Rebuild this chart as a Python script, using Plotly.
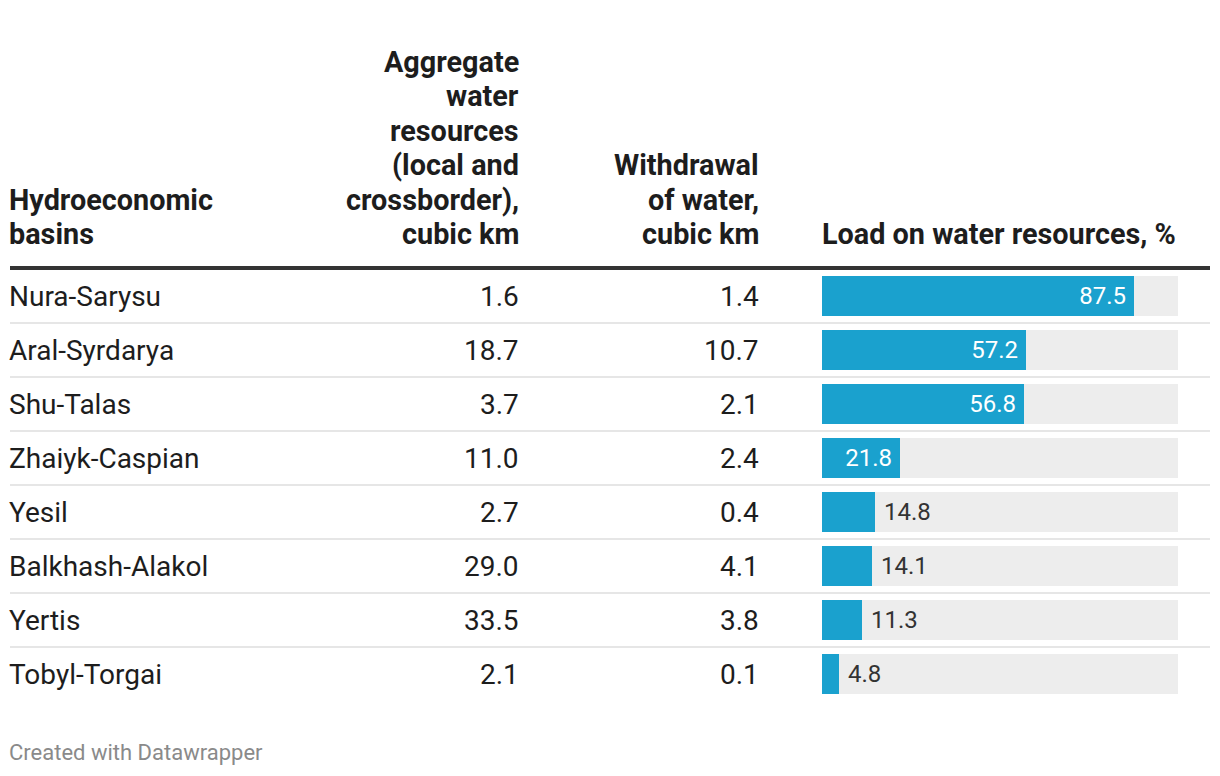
import plotly.graph_objects as go

basins = ["Nura-Sarysu", "Aral-Syrdarya", "Shu-Talas", "Zhaiyk-Caspian", "Yesil",
          "Balkhash-Alakol", "Yertis", "Tobyl-Torgai"]
aggregate = [1.6, 18.7, 3.7, 11.0, 2.7, 29.0, 33.5, 2.1]
withdrawal = [1.4, 10.7, 2.1, 2.4, 0.4, 4.1, 3.8, 0.1]
load = [87.5, 57.2, 56.8, 21.8, 14.8, 14.1, 11.3, 4.8]
load_max = [100] * len(basins)

header_basins = ["Hydroeconomic", "basins"]
header_aggregate = ["Aggregate", "water", "resources", "(local and", "crossborder),", "cubic km"]
header_withdrawal = ["Withdrawal", "of water,", "cubic km"]
header_load = ["Load on water resources, %"]

OFF = 8  # page body margin
W, H = 1220 - OFF, 776 - OFF
FONT = "Roboto"
FS = 28
HFS = 28.8
DARK = "#1d1d1d"
BLUE = "#1aa1ce"


def px(x):
    return (x - OFF) / W


def py(y):
    return 1 - (y - OFF) / H


rows_top, rows_bot = 269, 701

fig = go.Figure()
fig.add_trace(go.Bar(
    x=load_max, y=basins, orientation="h", marker=dict(color="#ededed", line_width=0),
    width=0.74, hoverinfo="skip", showlegend=False))
positions = ["inside" if v >= 20 else "outside" for v in load]
labels = [f"{v:.1f}\u2009" if v >= 20 else f"\u00a0{v:.1f}" for v in load]
fig.add_trace(go.Bar(
    x=load, y=basins, orientation="h", marker=dict(color=BLUE, line_width=0),
    width=0.74, text=labels, textposition=positions,
    insidetextanchor="end", textangle=0,
    insidetextfont=dict(family=FONT, size=24, color="white"),
    outsidetextfont=dict(family=FONT, size=24, color="#333333"),
    cliponaxis=False, showlegend=False))

fig.update_layout(
    width=W, height=H, margin=dict(l=0, r=0, t=0, b=0),
    paper_bgcolor="white", plot_bgcolor="white",
    barmode="overlay", bargap=0,
    font=dict(family=FONT, size=FS, color=DARK),
    xaxis=dict(domain=[px(822), px(1178)], range=[0, 100], visible=False, fixedrange=True),
    yaxis=dict(domain=[py(rows_bot), py(rows_top)], categoryorder="array",
               categoryarray=basins, range=[len(basins) - 0.5, -0.5],
               visible=False, fixedrange=True),
)

# Text columns
for b, a, w in zip(basins, aggregate, withdrawal):
    fig.add_annotation(x=px(7), xref="paper", y=b, yref="y", text=b, showarrow=False,
                       xanchor="left", yanchor="middle", font=dict(size=FS, color=DARK))
    fig.add_annotation(x=px(521), xref="paper", y=b, yref="y", text=f"{a:.1f}", showarrow=False,
                       xanchor="right", yanchor="middle", font=dict(size=FS, color=DARK))
    fig.add_annotation(x=px(761), xref="paper", y=b, yref="y", text=f"{w:.1f}", showarrow=False,
                       xanchor="right", yanchor="middle", font=dict(size=FS, color=DARK))

# Headers (each line placed separately, bottom-aligned)
LINE = 34.4
BOTTOM = 234
for lines, x, anchor in [(header_basins, 7, "left"), (header_aggregate, 521, "right"),
                         (header_withdrawal, 761, "right"), (header_load, 820, "left")]:
    n = len(lines)
    for i, t in enumerate(lines):
        yc = BOTTOM - (n - 1 - i) * LINE
        fig.add_annotation(x=px(x), xref="paper", y=py(yc), yref="paper", text=f"<b>{t}</b>",
                           showarrow=False, xanchor=anchor, yanchor="middle",
                           font=dict(size=HFS, color=DARK))

# Header rule
fig.add_shape(type="line", xref="paper", yref="paper", x0=px(10), x1=px(1210),
              y0=py(268), y1=py(268), line=dict(color="#333333", width=4))
# Row separators
for i in range(len(basins) - 1):
    fig.add_shape(type="line", xref="paper", yref="y", x0=px(10), x1=px(1210),
                  y0=i + 0.5, y1=i + 0.5, line=dict(color="#e6e6e6", width=2))

fig.add_annotation(x=px(7), xref="paper", y=py(752), yref="paper", text="Created with Datawrapper",
                   showarrow=False, xanchor="left", yanchor="middle",
                   font=dict(size=22, color="#8a8a8a"))

fig.write_html("out.html")
